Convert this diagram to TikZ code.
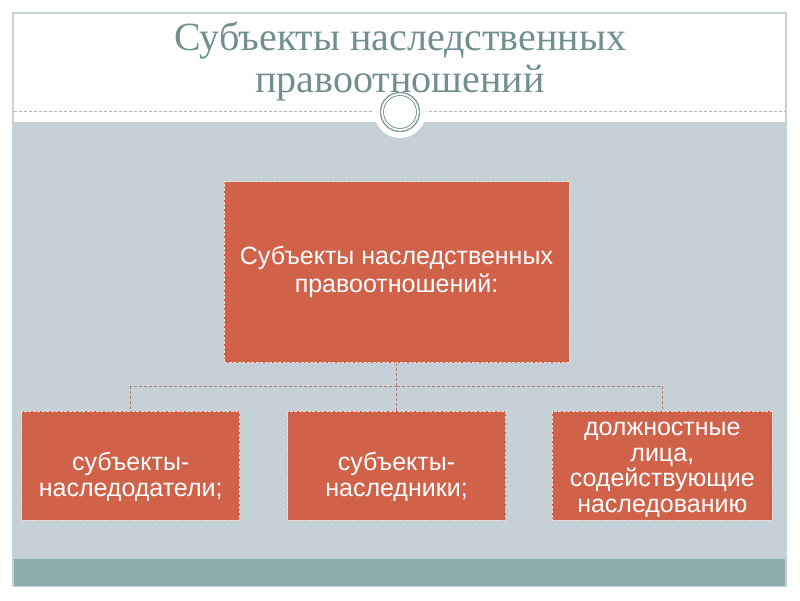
\documentclass[tikz,border=0pt]{standalone}
\usepackage{fontspec}
\setmainfont{Liberation Serif}
\setsansfont{Liberation Sans}
\usepackage{xcolor}
\usetikzlibrary{positioning}
\definecolor{titlegray}{HTML}{708F8E}
\definecolor{boxred}{HTML}{D1624A}
\definecolor{boxedge}{HTML}{F3DCD5}
\definecolor{panelgray}{HTML}{C5D1D7}
\definecolor{bandteal}{HTML}{8BADAC}
\definecolor{framegray}{HTML}{C6D3D5}
\definecolor{dashgray}{HTML}{A9B7B9}
\definecolor{ringgray}{HTML}{7F9A9A}
\definecolor{linkbrown}{HTML}{AA837B}

\begin{document}
\begin{tikzpicture}[
    x=1pt, y=-1pt,
    node distance=48pt and 47pt,
    unit/.style={rectangle, fill=boxred, draw=boxedge, line width=0.8pt, dash pattern=on 3pt off 1.5pt},
    topunit/.style={unit, minimum width=345pt, minimum height=181pt},
    subunit/.style={unit, minimum width=218pt, minimum height=109pt},
    unittext/.style={text=white, align=center, inner sep=0pt, font=\sffamily\fontsize{25}{25.5}\selectfont},
    titletext/.style={text=titlegray, align=center, inner sep=0pt, font=\fontsize{40}{42}\selectfont},
    link/.style={draw=linkbrown, line width=1pt, dash pattern=on 3pt off 2pt}
    ]
    \useasboundingbox (0,0) rectangle (800,600);
    \draw[framegray, line width=2pt, fill=white] (13,13) rectangle (786,586);
    \fill[panelgray] (14,122) rectangle (785,559);
    \fill[bandteal] (14,559) rectangle (785,586);
    \draw[dashgray, dash pattern=on 3pt off 2pt] (14,111) -- (785,111);
    \fill[white] (400,112) circle (26);
    \draw[ringgray, line width=1.3pt] (400,112) circle (19.5);
    \draw[ringgray, line width=0.9pt] (400,112) circle (16.5);

    \node[titletext, anchor=base] (title) at (400,92) {Субъекты наследственных\\правоотношений};

    \node[topunit] (root) at (396.5,272) {};
    \node[subunit] (heir) [below = of root] {};
    \node[subunit] (testator) [left = of heir] {};
    \node[subunit, minimum width=220pt] (official) [right = 46pt of heir] {};

    \node[unittext, font=\sffamily\fontsize{25}{28}\selectfont] (roottext) at (root.center) {Субъекты наследственных\\правоотношений:};
    \node[unittext] (testatortext) at ([yshift=-11pt]testator.center) {субъекты-\\наследодатели;};
    \node[unittext] (heirtext) at ([yshift=-11pt]heir.center) {субъекты-\\наследники;};
    \node[unittext] (officialtext) at ([yshift=-4pt]official.center) {должностные\\лица,\\содействующие\\наследованию};

    \coordinate [below = 24pt of root.south] (fork);

    \draw[link] (root) -- (heir);
    \draw[link] (fork) -| (testator);
    \draw[link] (fork) -| (official);
\end{tikzpicture}
\end{document}
